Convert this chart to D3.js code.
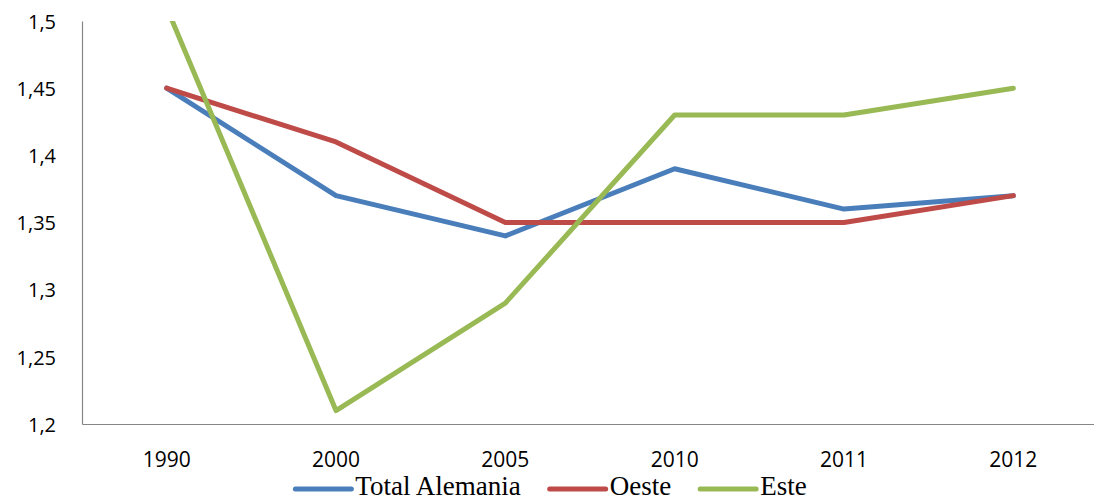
<!DOCTYPE html>
<html>
<head>
<meta charset="utf-8">
<script src="https://cdn.jsdelivr.net/npm/d3@7"></script>
<style>
  html, body { margin: 0; padding: 0; background: #fff; }
  svg { display: block; }
</style>
</head>
<body>
<svg id="chart" width="1094" height="501"></svg>
<script>
// Fertility rate by region, selected years
const years = ["1990", "2000", "2005", "2010", "2011", "2012"];
const totalAlemania = [1.45, 1.37, 1.34, 1.39, 1.36, 1.37];
const oeste = [1.45, 1.41, 1.35, 1.35, 1.35, 1.37];
const este = [1.51, 1.21, 1.29, 1.43, 1.43, 1.45];
const seriesNames = ["Total Alemania", "Oeste", "Este"];
const seriesColors = ["#4A7EBB", "#BE4B48", "#98B954"];
const yTicks = [1.2, 1.25, 1.3, 1.35, 1.4, 1.45, 1.5];

const series = [totalAlemania, oeste, este].map((vals, i) => ({
  name: seriesNames[i],
  color: seriesColors[i],
  values: vals.map((v, j) => ({ year: years[j], value: v }))
}));

const svg = d3.select("#chart");
const plot = { left: 82, top: 21, right: 1098, bottom: 424 };

const x = d3.scaleBand().domain(years).range([plot.left, plot.right]).padding(0);
const y = d3.scaleLinear().domain([1.2, 1.5]).range([plot.bottom, plot.top]);
const cx = d => x(d) + x.bandwidth() / 2;

const labelFont = "'Open Sans', Lato, sans-serif";
const axisColor = "#868686";

// Clip the lines to the plot area
svg.append("defs").append("clipPath").attr("id", "plotClip")
  .append("rect")
  .attr("x", plot.left).attr("y", plot.top)
  .attr("width", plot.right - plot.left).attr("height", plot.bottom - plot.top);

// Y axis
const yAxis = svg.append("g")
  .attr("transform", `translate(${plot.left},0)`)
  .call(d3.axisLeft(y).tickValues(yTicks).tickSize(0).tickPadding(26)
    .tickFormat(v => String(+v.toFixed(2)).replace(".", ",")));
yAxis.select(".domain").attr("stroke", axisColor).attr("stroke-width", 1.2);
yAxis.selectAll("text")
  .attr("font-family", labelFont).attr("font-size", 20).attr("fill", "#000")
  .attr("dy", "0.36em");

// X axis
const xAxis = svg.append("g")
  .attr("transform", `translate(0,${plot.bottom})`)
  .call(d3.axisBottom(x).tickSize(0).tickPadding(0));
xAxis.select(".domain").attr("stroke", axisColor).attr("stroke-width", 1.2);
xAxis.selectAll("text")
  .attr("font-family", labelFont).attr("font-size", 21).attr("fill", "#000")
  .attr("dy", 0).attr("y", 43);

// Lines
const line = d3.line().x(d => cx(d.year)).y(d => y(d.value));
svg.append("g").attr("clip-path", "url(#plotClip)")
  .selectAll("path")
  .data(series)
  .join("path")
  .attr("d", d => line(d.values))
  .attr("fill", "none")
  .attr("stroke", d => d.color)
  .attr("stroke-width", 5)
  .attr("stroke-linecap", "round")
  .attr("stroke-linejoin", "round");

// Legend along the bottom edge
const legend = svg.append("g");
const sampleLen = 56, sampleGap = 4, entryGap = 29, legendBaseline = 495, sampleY = 489;
const items = legend.selectAll("g").data(series).join("g");
items.append("line")
  .attr("x1", 0).attr("x2", sampleLen)
  .attr("y1", sampleY).attr("y2", sampleY)
  .attr("stroke", d => d.color).attr("stroke-width", 5)
  .attr("stroke-linecap", "round");
items.append("text")
  .attr("x", sampleLen + sampleGap).attr("y", legendBaseline)
  .attr("font-family", "'Liberation Serif', 'Times New Roman', serif")
  .attr("font-size", 27).attr("fill", "#000")
  .text(d => d.name);
const widths = [];
items.each(function () {
  const w = sampleLen + sampleGap + this.querySelector("text").getComputedTextLength();
  widths.push(w);
});
const totalW = d3.sum(widths) + entryGap * (widths.length - 1);
let start = 551 - totalW / 2;
items.attr("transform", (d, i) => {
  const t = `translate(${start},0)`;
  start += widths[i] + entryGap;
  return t;
});
</script>
</body>
</html>
